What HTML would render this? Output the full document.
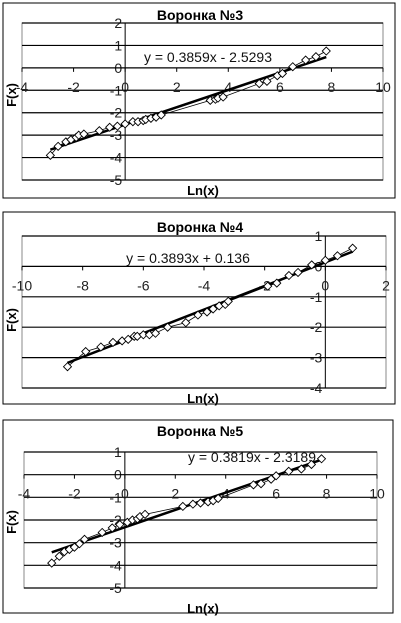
<!DOCTYPE html>
<html><head><meta charset="utf-8"><style>
body{margin:0;background:#fff;width:401px;height:623px;overflow:hidden}
svg{display:block;font-family:"Liberation Sans",Arial,sans-serif}
</style></head><body>
<svg id="s" width="401" height="623"></svg>
<script>
const x3=[-2.9,-2.6,-2.3,-2.1,-1.9,-1.8,-1.6,-1.0,-0.6,-0.3,0,0.3,0.5,0.7,0.8,1.0,1.2,1.4,3.3,3.5,3.6,3.8,5.2,5.5,5.9,6.1,6.5,7.0,7.4,7.8];
const y3=[-3.9,-3.5,-3.3,-3.2,-3.1,-3.0,-2.95,-2.8,-2.65,-2.6,-2.5,-2.4,-2.4,-2.35,-2.3,-2.25,-2.2,-2.1,-1.45,-1.4,-1.35,-1.3,-0.7,-0.6,-0.35,-0.25,0.05,0.35,0.5,0.75];
const x4=[-8.5,-7.9,-7.4,-7.0,-6.7,-6.5,-6.3,-6.2,-6.0,-5.8,-5.6,-5.2,-4.6,-4.2,-3.9,-3.7,-3.5,-3.3,-3.2,-1.9,-1.6,-1.2,-0.9,-0.45,0,0.4,0.9];
const y4=[-3.3,-2.8,-2.65,-2.5,-2.45,-2.4,-2.3,-2.3,-2.25,-2.25,-2.2,-2.0,-1.85,-1.6,-1.5,-1.4,-1.3,-1.25,-1.15,-0.65,-0.55,-0.3,-0.2,0.05,0.2,0.35,0.6];
const x5=[-2.9,-2.6,-2.4,-2.2,-2.0,-1.8,-1.6,-0.9,-0.5,-0.2,0.1,0.3,0.5,0.6,0.8,2.3,2.7,3.0,3.3,3.5,3.7,5.1,5.4,5.8,6.0,6.5,7.0,7.4,7.8];
const y5=[-3.9,-3.6,-3.4,-3.3,-3.2,-3.05,-2.85,-2.55,-2.35,-2.2,-2.1,-2.0,-1.95,-1.85,-1.75,-1.4,-1.3,-1.25,-1.2,-1.15,-1.05,-0.45,-0.4,-0.2,-0.05,0.15,0.25,0.45,0.7];
const xTicks3=[-4,-2,0,2,4,6,8,10], yTicks3=[2,1,0,-1,-2,-3,-4,-5];
const xTicks4=[-10,-8,-6,-4,-2,0,2], yTicks4=[1,0,-1,-2,-3,-4];
const xTicks5=[-4,-2,0,2,4,6,8,10], yTicks5=[1,0,-1,-2,-3,-4,-5];
const slopes=[0.3859,0.3893,0.3819], intercepts=[-2.5293,0.136,-2.3189];
const eqs=["y = 0.3859x - 2.5293","y = 0.3893x + 0.136","y = 0.3819x - 2.3189"];
const titles=["Воронка №3","Воронка №4","Воронка №5"];

const NS="http://www.w3.org/2000/svg";
const svg=document.getElementById('s');
function mk(t,a,p){const e=document.createElementNS(NS,t);for(const k in a)e.setAttribute(k,a[k]);(p||svg).appendChild(e);return e;}

const panels=[
 {box:[3,3,392,195],px:[22,383],py:[23,180],xs:xTicks3,ys:yTicks3,xd:x3,yd:y3,eq:[208,62],ttl:15,lnx:190,fx:[12,95]},
 {box:[3,212,392,192],px:[22,386],py:[236,388],xs:xTicks4,ys:yTicks4,xd:x4,yd:y4,eq:[188,263],ttl:227,lnx:398,fx:[12,320]},
 {box:[3,420,390,193],px:[24,377],py:[452,588],xs:xTicks5,ys:yTicks5,xd:x5,yd:y5,eq:[252,462],ttl:431,lnx:608,fx:[12,522]}
];
panels.forEach((P,i)=>{
 const g=mk('g',{});
 
 
 const xmin=P.xs[0],xmax=P.xs[P.xs.length-1],ymax=P.ys[0],ymin=P.ys[P.ys.length-1];
 const X=v=>P.px[0]+(v-xmin)/(xmax-xmin)*(P.px[1]-P.px[0]);
 const Y=v=>P.py[0]+(ymax-v)/(ymax-ymin)*(P.py[1]-P.py[0]);
 const b=mk('rect',{x:P.box[0],y:P.box[1],width:P.box[2],height:P.box[3],fill:'#fff',stroke:'#000','stroke-width':1},g);
 
 const pa=mk('rect',{x:P.px[0],y:P.py[0],width:P.px[1]-P.px[0],height:P.py[1]-P.py[0],fill:'none',stroke:'#888'},g);
 
 P.ys.forEach(v=>{
  const t=mk('text',{x:X(0)-3,y:Y(v)+5,'font-size':14,'text-anchor':'end',fill:'#222'},g);
  t.textContent=v;
 });
 P.ys.forEach(v=>{
  const l=mk('line',{x1:P.px[0],x2:P.px[1],y1:Y(v),y2:Y(v),stroke:'#000','stroke-width':1.2},g);
  
 });
 const ya=mk('line',{x1:X(0),x2:X(0),y1:P.py[0],y2:P.py[1],stroke:'#000'},g);
 
 P.xs.forEach(v=>{
  const tk=mk('line',{x1:X(v),x2:X(v),y1:Y(0),y2:Y(0)+4,stroke:'#000'},g);
  
  const t=mk('text',{x:X(v),y:Y(0)+24,'font-size':14,'text-anchor':'middle',fill:'#222'},g);
  t.textContent=v;
 });
 const et=mk('text',{x:P.eq[0],y:P.eq[1],'font-size':14,'text-anchor':'middle',fill:'#111'},g);
 et.textContent=eqs[i];
 const pts=P.xd.map((v,j)=>X(v)+','+Y(P.yd[j])).join(' ');
 const dl=mk('polyline',{points:pts,fill:'none',stroke:'#000','stroke-width':0.8},g);
 
 const x0=P.xd[0],x1=P.xd[P.xd.length-1];
 const tl=mk('line',{x1:X(x0),y1:Y(slopes[i]*x0+intercepts[i]),x2:X(x1),y2:Y(slopes[i]*x1+intercepts[i]),stroke:'#000','stroke-width':2.5},g);
 
 P.xd.forEach((v,j)=>{
  const cx=X(v),cy=Y(P.yd[j]);
  const m=mk('polygon',{points:`${cx},${cy-4} ${cx+4},${cy} ${cx},${cy+4} ${cx-4},${cy}`,fill:'#fff',stroke:'#000','stroke-width':0.9},g);
  
 });
 const tt=mk('text',{x:200,y:P.ttl+5,'font-size':14,'font-weight':'bold','text-anchor':'middle'},g);
 tt.textContent=titles[i];
 const xl=mk('text',{x:203,y:P.lnx+5,'font-size':13,'font-weight':'bold','text-anchor':'middle'},g);
 xl.textContent='Ln(x)';
 const yl=mk('text',{x:P.fx[0],y:P.fx[1],'font-size':13,'font-weight':'bold','text-anchor':'middle',transform:`rotate(-90 ${P.fx[0]} ${P.fx[1]})`,dy:4},g);
 yl.textContent='F(x)';
});
</script>
</body></html>
